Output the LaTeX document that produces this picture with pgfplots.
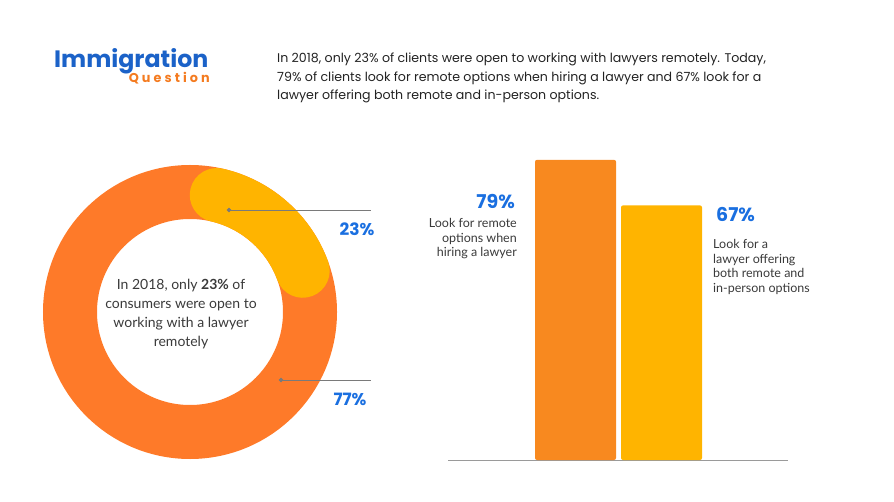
\documentclass[border=0pt]{standalone}
\usepackage{pgfplots}
\pgfplotsset{compat=1.18}
\usepackage{fontspec}
\setmainfont{Poppins}
\newfontfamily\lato{Lato}
\newfontfamily\qfont[LetterSpace=24]{Poppins}
\definecolor{donutorange}{HTML}{FE7A29}
\definecolor{donutyellow}{HTML}{FFB400}
\definecolor{barorange}{HTML}{F8891F}
\definecolor{baryellow}{HTML}{FFB400}
\definecolor{pctblue}{HTML}{1A6FE0}
\definecolor{logoblue}{HTML}{1B62C8}
\definecolor{logoorange}{HTML}{F47B20}
\definecolor{txt}{HTML}{222222}
\definecolor{subtxt}{HTML}{3A3A3A}
\definecolor{leader}{HTML}{7A7A7A}
\definecolor{axisgray}{HTML}{9A9A9A}
% data
\def\openShare{23}
\def\closedShare{77}
\def\remoteShare{79}
\def\bothShare{67}
\begin{document}
\begin{tikzpicture}[x=1pt,y=1pt]
\path[use as bounding box] (0,0) rectangle (894,501);
% logo
\node[anchor=base west, inner sep=0, text=logoblue, font=\fontsize{23.7}{24}\selectfont\bfseries] at (54,433) {Immigration};
\node[anchor=base east, inner sep=0, text=logoorange, font=\fontsize{12.8}{13}\qfont\bfseries] at (210,418) {Question};
% header
\begin{scope}[every node/.style={anchor=base west, inner sep=0, text=txt, font=\fontsize{12.6}{15}\selectfont}]
\node at (277,438) {In 2018, only 23\% of clients were open to working with lawyers remotely. Today,};
\node at (277,419.5) {79\% of clients look for remote options when hiring a lawyer and 67\% look for a};
\node at (277,401) {lawyer offering both remote and in-person options.};
\end{scope}
% donut
\begin{axis}[at={(190pt,189pt)}, anchor=center, scale only axis, width=300pt, height=300pt,
  xmin=-150, xmax=150, ymin=-150, ymax=150, hide axis, clip=false]
\pgfmathsetmacro{\capang}{deg(27/120)}
\pgfmathsetmacro{\startang}{90-\capang}
\pgfmathsetmacro{\endang}{90-360*\openShare/100+\capang}
\draw[donutorange, line width=54pt] (axis cs:0,0) circle[radius=120];
\draw[donutyellow, line width=54pt, line cap=round] (axis cs:{120*cos(\startang)},{120*sin(\startang)}) arc[start angle=\startang, end angle=\endang, radius=120];
\addplot[leader, line width=0.8pt, mark=*, mark size=1.8pt, mark indices={1}] coordinates {(39,102) (181,102)};
\addplot[leader, line width=0.8pt, mark=*, mark size=1.8pt, mark indices={1}] coordinates {(91,-68) (181,-68)};
\node[anchor=base, inner sep=0, text=pctblue, font=\fontsize{17}{17}\selectfont\bfseries] at (axis cs:167,76) {\openShare\%};
\node[anchor=base, inner sep=0, text=pctblue, font=\fontsize{17}{17}\selectfont\bfseries] at (axis cs:160,-93) {\closedShare\%};
\node[align=center, inner sep=0, text=subtxt, font=\fontsize{14}{19}\lato] at (axis cs:-9,-2) {In 2018, only \textbf{23\%} of\\consumers were open to\\working with a lawyer\\remotely};
\end{axis}
% bars
\begin{axis}[at={(448pt,41pt)}, anchor=south west, scale only axis, width=340pt, height=304pt,
  xmin=-1.483, xmax=2.471, ymin=0, ymax=80,
  axis x line=bottom, axis y line=none, xtick=\empty, ytick=\empty,
  x axis line style={draw=axisgray, line width=1pt, -}, clip=false]
\addplot[ybar, bar width=81pt, bar shift=0pt, fill=barorange, draw=none, rounded corners=2pt] coordinates {(0,\remoteShare)};
\addplot[ybar, bar width=81pt, bar shift=0pt, fill=baryellow, draw=none, rounded corners=2pt] coordinates {(1,\bothShare)};
\end{axis}
\node[anchor=base east, inner sep=0, text=pctblue, font=\fontsize{19}{19}\selectfont\bfseries] at (515,292) {\remoteShare\%};
\begin{scope}[every node/.style={anchor=base east, inner sep=0, text=subtxt, font=\fontsize{12.5}{14}\lato}]
\node at (517,273) {Look for remote};
\node at (517,258.5) {options when};
\node at (517,244) {hiring a lawyer};
\end{scope}
\node[anchor=base west, inner sep=0, text=pctblue, font=\fontsize{19}{19}\selectfont\bfseries] at (716,279) {\bothShare\%};
\begin{scope}[every node/.style={anchor=base west, inner sep=0, text=subtxt, font=\fontsize{12.5}{14}\lato}]
\node at (713,252) {Look for a};
\node at (713,237.5) {lawyer offering};
\node at (713,223) {both remote and};
\node at (713,208.5) {in-person options};
\end{scope}
\end{tikzpicture}
\end{document}
